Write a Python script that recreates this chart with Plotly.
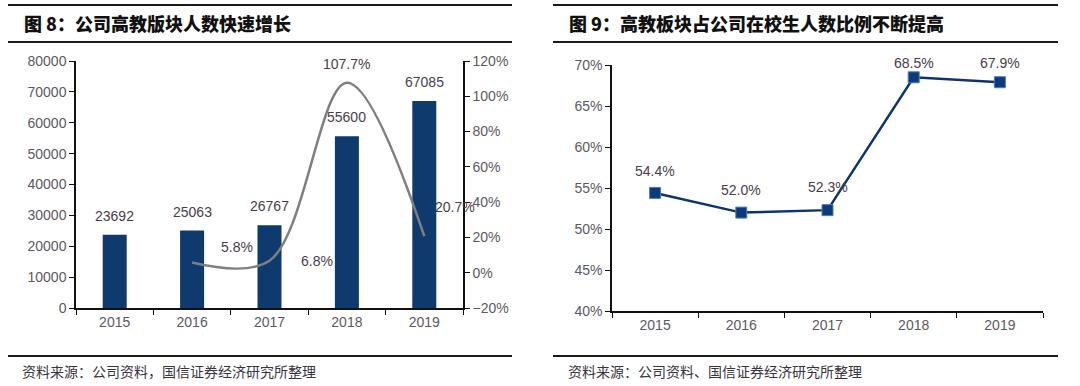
import plotly.graph_objects as go

# ---------------- data ----------------
years = ["2015", "2016", "2017", "2018", "2019"]
students = [23692, 25063, 26767, 55600, 67085]
growth_years = ["2016", "2017", "2018", "2019"]
growth = [0.058, 0.068, 1.077, 0.207]
growth_labels = ["5.8%", "6.8%", "107.7%", "20.7%"]
share = [0.544, 0.520, 0.523, 0.685, 0.679]
share_labels = ["54.4%", "52.0%", "52.3%", "68.5%", "67.9%"]

title_left = "图 8：公司高教版块人数快速增长"
title_right = "图 9：高教板块占公司在校生人数比例不断提高"
source_left = "资料来源：公司资料，国信证券经济研究所整理"
source_right = "资料来源：公司资料、国信证券经济研究所整理"

# label offsets (px) – styling only
growth_label_shift = [(45, 15), (47, 0), (0, 19), (31, 29)]
share_label_shift = [22, 23, 23, 14, 19]

W, H = 1080, 386
NAVY = "#0e3a6e"
TXT = "#4a3d4a"
TICK = "#5e5862"
FONT = "Liberation Sans, Arial, sans-serif"
CJK = "Noto Sans CJK SC"


def px_x(x):
    return x / W


def px_y(y):
    return (H - y) / H


fig = go.Figure()

fig.add_trace(go.Bar(
    x=years, y=students, marker=dict(color=NAVY, line=dict(width=0)),
    width=0.31, xaxis="x", yaxis="y", showlegend=False, hoverinfo="x+y"))

fig.add_trace(go.Scatter(
    x=growth_years, y=growth, mode="lines",
    line=dict(color="#7f7f7f", width=2.5, shape="spline", smoothing=1.0),
    xaxis="x", yaxis="y2", showlegend=False))

fig.add_trace(go.Scatter(
    x=years, y=share, mode="lines+markers",
    line=dict(color="#0c3470", width=2.5),
    marker=dict(symbol="square", size=11, color="#0d3b7a",
                line=dict(color="#4a7cc0", width=1)),
    xaxis="x2", yaxis="y3", showlegend=False))

annotations = []
for yr, v in zip(years, students):
    annotations.append(dict(x=years.index(yr), y=v, xref="x", yref="y", text=str(v),
                            showarrow=False, yanchor="bottom", yshift=9,
                            font=dict(family=FONT, size=14, color=TXT)))
for (yr, v, lab), (dx, dy) in zip(zip(growth_years, growth, growth_labels), growth_label_shift):
    annotations.append(dict(x=years.index(yr), y=v, xref="x", yref="y2", text=lab,
                            showarrow=False, xshift=dx, yshift=dy,
                            font=dict(family=FONT, size=14, color=TXT)))
for yr, v, lab, dy in zip(years, share, share_labels, share_label_shift):
    annotations.append(dict(x=years.index(yr), y=v, xref="x2", yref="y3", text=lab,
                            showarrow=False, yshift=dy,
                            font=dict(family=FONT, size=14, color=TXT)))

# titles and sources
annotations += [
    dict(x=px_x(22), y=px_y(23), xref="paper", yref="paper", text=title_left,
         showarrow=False, xanchor="left", yanchor="middle",
         font=dict(family=CJK, size=18, color="#111111", weight=900)),
    dict(x=px_x(567), y=px_y(23), xref="paper", yref="paper", text=title_right,
         showarrow=False, xanchor="left", yanchor="middle",
         font=dict(family=CJK, size=18, color="#111111", weight=900)),
    dict(x=px_x(20), y=px_y(371), xref="paper", yref="paper", text=source_left,
         showarrow=False, xanchor="left", yanchor="middle",
         font=dict(family=CJK, size=14, color="#3a3340")),
    dict(x=px_x(566), y=px_y(371), xref="paper", yref="paper", text=source_right,
         showarrow=False, xanchor="left", yanchor="middle",
         font=dict(family=CJK, size=14, color="#3a3340")),
]

shapes = []
for x0, x1 in [(8, 512), (553, 1058)]:
    for yy in [5, 42, 356]:
        shapes.append(dict(type="line", xref="paper", yref="paper",
                           x0=px_x(x0), x1=px_x(x1), y0=px_y(yy), y1=px_y(yy),
                           line=dict(color="#1a1a1a", width=1.8)))

axis_common = dict(showgrid=False, zeroline=False, showline=True, linecolor="#111111",
                   linewidth=1.5, ticks="outside", ticklen=5, tickcolor="#111111",
                   automargin=False,
                   tickfont=dict(family=FONT, size=14, color=TICK))

fig.update_layout(
    width=W, height=H, margin=dict(l=0, r=0, t=0, b=0, autoexpand=False),
    paper_bgcolor="white", plot_bgcolor="white",
    xaxis=dict(domain=[px_x(76), px_x(463)], type="category", range=[-0.5, 4.5],
               tickson="boundaries", anchor="y", **axis_common),
    yaxis=dict(domain=[px_y(308), px_y(61)], range=[0, 80000], dtick=10000,
               tickformat="d", anchor="x", **axis_common),
    yaxis2=dict(overlaying="y", side="right", range=[-0.2, 1.2], dtick=0.2,
                tickformat=".0%", anchor="x", **axis_common),
    xaxis2=dict(domain=[px_x(612), px_x(1043)], type="category", range=[-0.5, 4.5],
                tickson="boundaries", anchor="y3", **axis_common),
    yaxis3=dict(domain=[px_y(311), px_y(65)], range=[0.4, 0.7], dtick=0.05,
                tickformat=".0%", anchor="x2", **axis_common),
    annotations=annotations, shapes=shapes,
)

fig.write_html("out.html", config={"displayModeBar": False},
               post_script="document.body.style.margin='0';document.body.style.overflow='hidden';")
